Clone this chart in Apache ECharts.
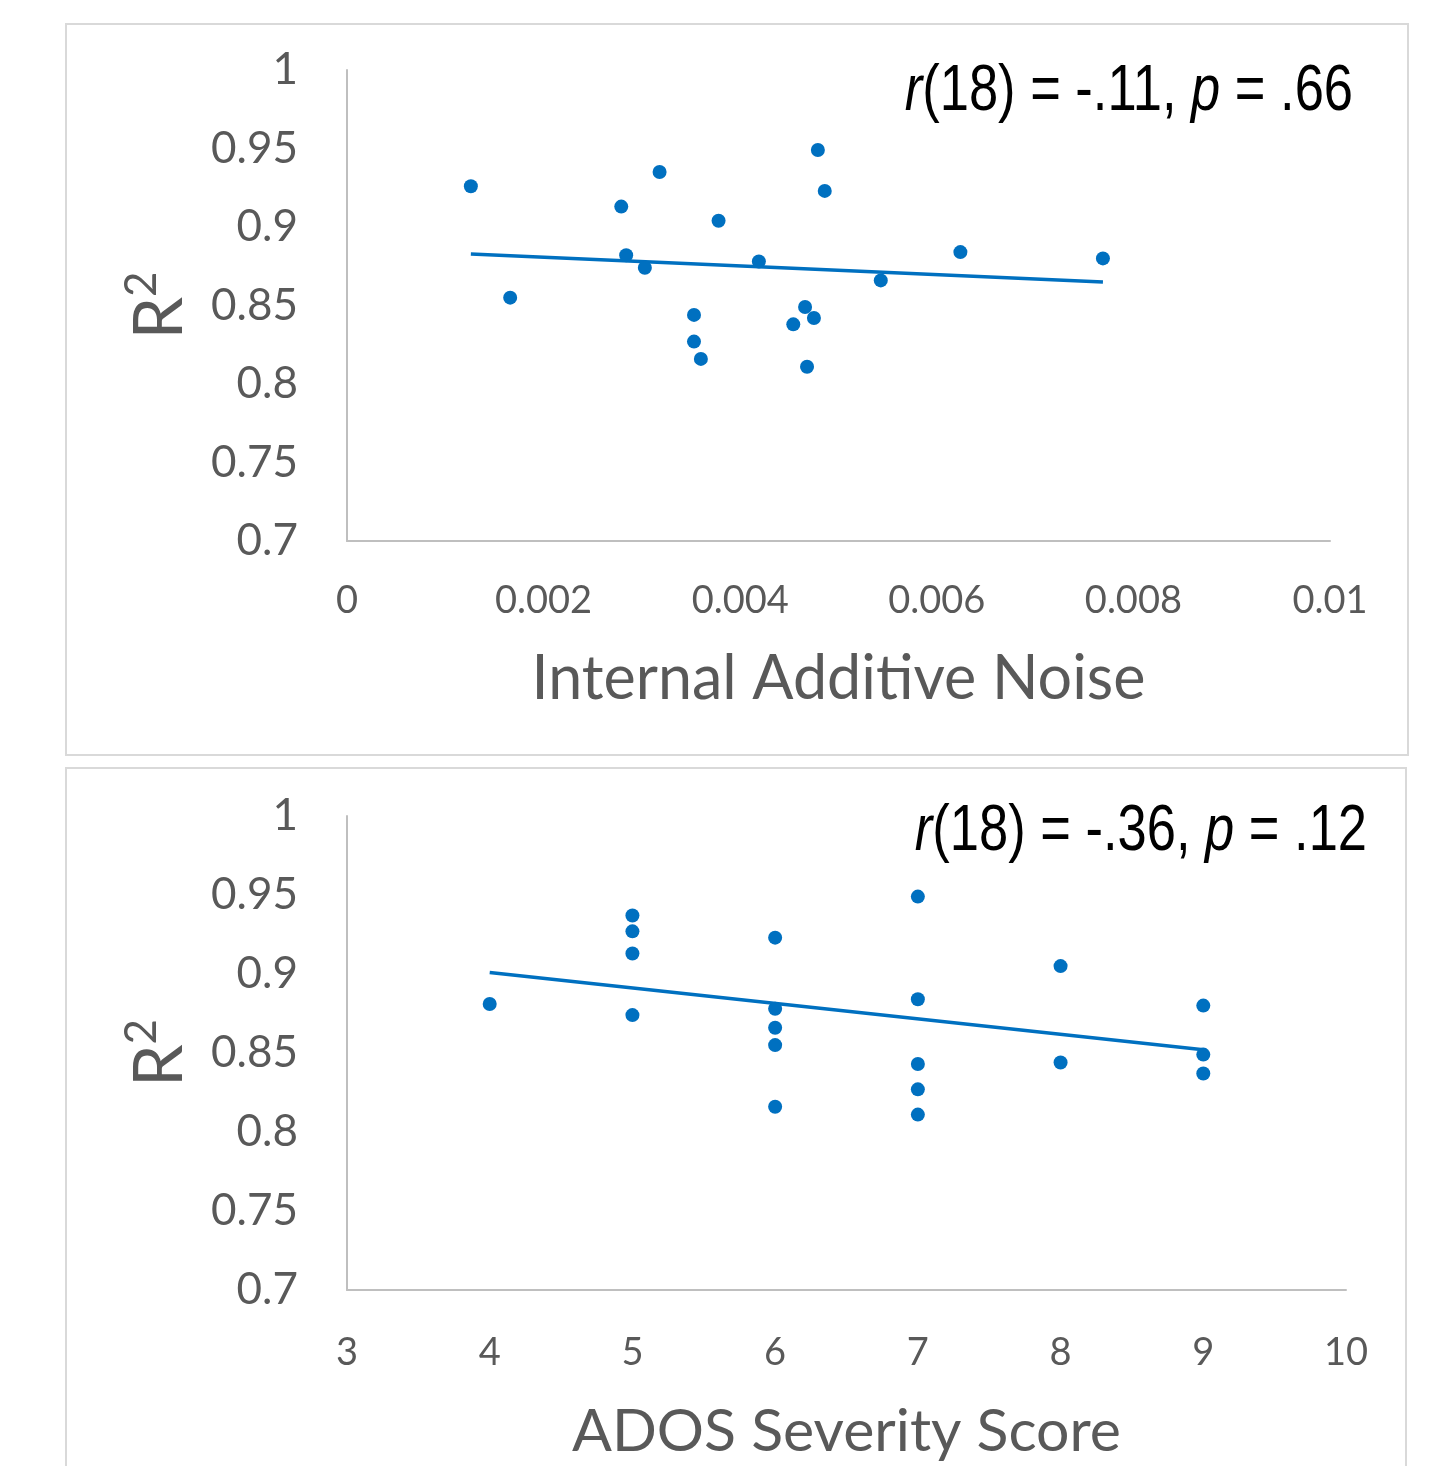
<!DOCTYPE html>
<html>
<head>
<meta charset="utf-8">
<script src="https://cdn.jsdelivr.net/npm/echarts@6/dist/echarts.min.js"></script>
<style>
html,body{margin:0;padding:0;background:#fff;}
#chart{width:1429px;height:1466px;}
</style>
</head>
<body>
<div id="chart"></div>
<script>
// ---- Data ----
// Panel 1: Internal Additive Noise vs R^2
const noiseX = [0.00126, 0.00166, 0.00279, 0.00318, 0.00284, 0.00303, 0.00378, 0.00353, 0.00353, 0.00360,
                0.00419, 0.00479, 0.00486, 0.00466, 0.00475, 0.00454, 0.00468, 0.00543, 0.00624, 0.00769];
const noiseR2 = [0.926, 0.855, 0.913, 0.935, 0.882, 0.874, 0.904, 0.844, 0.827, 0.816,
                 0.878, 0.949, 0.923, 0.849, 0.842, 0.838, 0.811, 0.866, 0.884, 0.880];
const noiseTrendX = [0.00126, 0.00769];
const noiseTrendY = [0.8828, 0.8650];
const noiseStatText = ['r', '(18) = -.11, ', 'p', ' = .66'];

// Panel 2: ADOS Severity Score vs R^2
const adosX = [4, 5, 5, 5, 5, 6, 6, 6, 6, 6, 7, 7, 7, 7, 7, 8, 8, 9, 9, 9];
const adosR2 = [0.881, 0.937, 0.927, 0.913, 0.874, 0.923, 0.878, 0.866, 0.855, 0.816,
                0.949, 0.884, 0.843, 0.827, 0.811, 0.905, 0.844, 0.880, 0.849, 0.837];
const adosTrendX = [4, 9];
const adosTrendY = [0.901, 0.852];
const adosStatText = ['r', '(18) = -.36, ', 'p', ' = .12'];

const xTitles = ['Internal Additive Noise', 'ADOS Severity Score'];
const yTitleMain = 'R';
const yTitleSup = '2';

// ---- Styles ----
const BLUE = '#0070c0';
const GRAY_TEXT = '#595959';
const AXIS_GRAY = '#bfbfbf';
const TICK_FONT = 'Lato';
const NARROW = '"Liberation Sans Narrow", "Arial Narrow", "Liberation Sans", Arial, sans-serif';

function pairs(xs, ys) { return xs.map((x, i) => [x, ys[i]]); }

function statRich(parts) {
  return '{i|' + parts[0] + '}{n|' + parts[1] + '}{i|' + parts[2] + '}{n|' + parts[3] + '}';
}

const yAxisCommon = {
  type: 'value', min: 0.7, max: 1, interval: 0.05,
  axisLine: { show: true, lineStyle: { color: AXIS_GRAY, width: 2 } },
  axisTick: { show: false },
  splitLine: { show: false },
  axisLabel: { color: GRAY_TEXT, fontFamily: TICK_FONT, fontSize: 44, margin: 49,
               padding: [11, 0, 0, 0] },
  name: '{r|' + yTitleMain + '}{s|' + yTitleSup + '}',
  nameLocation: 'middle',
  nameGap: 147,
  nameRotate: 90,
  nameTextStyle: {
    color: GRAY_TEXT, fontFamily: TICK_FONT,
    rich: {
      r: { fontSize: 68, color: GRAY_TEXT, fontFamily: TICK_FONT, lineHeight: 80 },
      s: { fontSize: 44, color: GRAY_TEXT, fontFamily: TICK_FONT, verticalAlign: 'top', lineHeight: 50 }
    }
  }
};

function xAxisDef(gridIndex, min, max, interval, title, gap, nameSize, labelMargin) {
  return {
    type: 'value', gridIndex: gridIndex, min: min, max: max, interval: interval,
    axisLine: { show: true, onZero: false, lineStyle: { color: AXIS_GRAY, width: 2 } },
    axisTick: { show: false },
    splitLine: { show: false },
    axisLabel: { color: GRAY_TEXT, fontFamily: TICK_FONT, fontSize: 38, margin: labelMargin },
    name: title,
    nameLocation: 'middle',
    nameGap: gap,
    nameTextStyle: { color: GRAY_TEXT, fontFamily: TICK_FONT, fontSize: nameSize }
  };
}

function statText(px, py, parts) {
  return { type: 'text', z: 10, x: px, y: py, scaleX: 0.82, scaleY: 1,
    style: {
      x: 0, y: 0, align: 'right', verticalAlign: 'middle',
      text: statRich(parts), fill: '#000',
      font: '64px ' + NARROW,
      rich: {
        i: { fontSize: 64, fontFamily: NARROW, fontStyle: 'italic', fill: '#000' },
        n: { fontSize: 64, fontFamily: NARROW, fill: '#000' }
      }
    } };
}

const chart = echarts.init(document.getElementById('chart'), null, { renderer: 'canvas' });

const option = {
  backgroundColor: '#ffffff',
  animation: false,
  grid: [
    { left: 347, top: 70, right: 99, bottom: 925 },
    { left: 347, top: 816, right: 83, bottom: 176 }
  ],
  xAxis: [
    xAxisDef(0, 0, 0.01, 0.002, xTitles[0], 108, 61, 41),
    xAxisDef(1, 3, 10, 1, xTitles[1], 112, 59, 44)
  ],
  yAxis: [
    Object.assign({}, yAxisCommon, { gridIndex: 0 }),
    Object.assign({}, yAxisCommon, { gridIndex: 1 })
  ],
  graphic: [
    { type: 'rect', z: -10, shape: { x: 66, y: 24, width: 1342, height: 731 },
      style: { fill: '#fff', stroke: '#d9d9d9', lineWidth: 2 } },
    { type: 'rect', z: -10, shape: { x: 66, y: 768, width: 1340, height: 760 },
      style: { fill: '#fff', stroke: '#d9d9d9', lineWidth: 2 } },
    statText(1353, 92, noiseStatText),
    statText(1367, 832, adosStatText)
  ],
  series: [
    { type: 'scatter', xAxisIndex: 0, yAxisIndex: 0, data: pairs(noiseX, noiseR2),
      symbol: 'circle', symbolSize: 14, itemStyle: { color: BLUE, opacity: 1 }, z: 3 },
    { type: 'line', xAxisIndex: 0, yAxisIndex: 0, data: pairs(noiseTrendX, noiseTrendY),
      symbol: 'none', lineStyle: { color: BLUE, width: 3.5 }, z: 2 },
    { type: 'scatter', xAxisIndex: 1, yAxisIndex: 1, data: pairs(adosX, adosR2),
      symbol: 'circle', symbolSize: 14, itemStyle: { color: BLUE, opacity: 1 }, z: 3 },
    { type: 'line', xAxisIndex: 1, yAxisIndex: 1, data: pairs(adosTrendX, adosTrendY),
      symbol: 'none', lineStyle: { color: BLUE, width: 3.5 }, z: 2 }
  ]
};

chart.setOption(option);
</script>
</body>
</html>
